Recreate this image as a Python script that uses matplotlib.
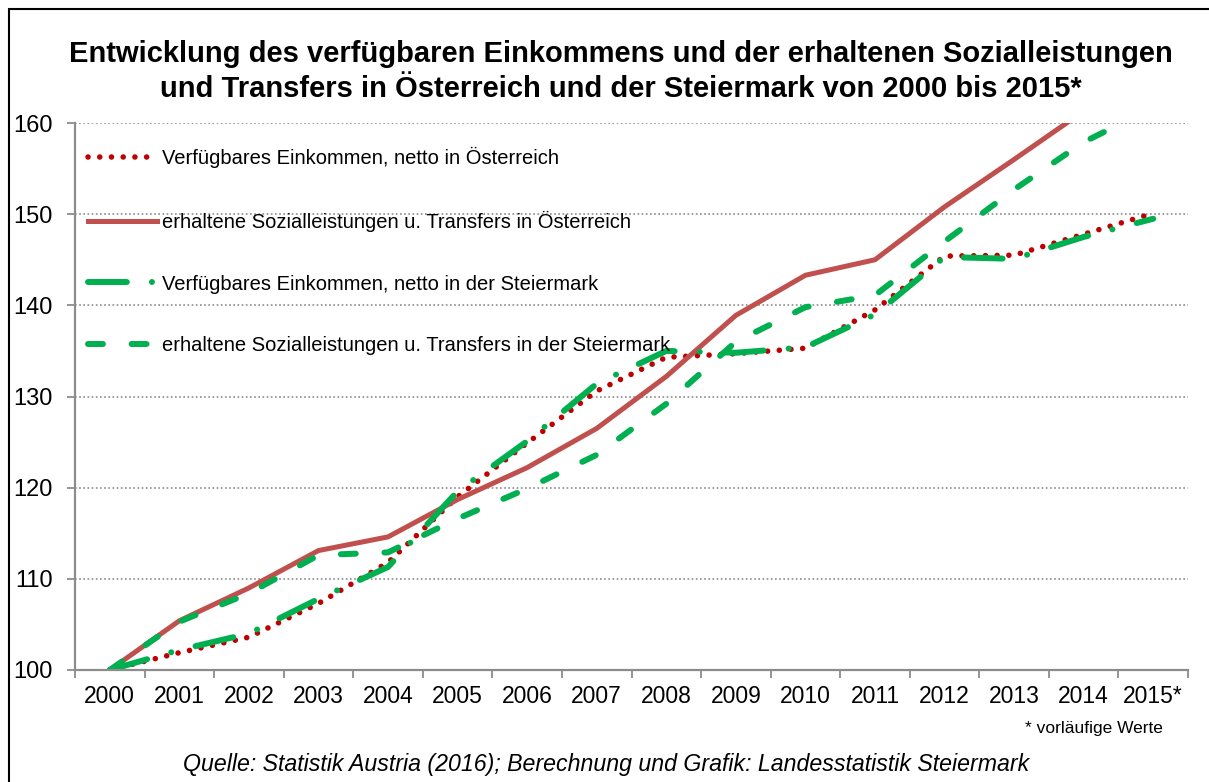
import matplotlib
matplotlib.use("Agg")
import matplotlib.pyplot as plt
from matplotlib.patches import Rectangle

plt.rcParams['font.family'] = ['Liberation Sans', 'DejaVu Sans']

# Jahre (Kategorien) und Indexwerte (2000 = 100)
years = ['2000', '2001', '2002', '2003', '2004', '2005', '2006', '2007',
         '2008', '2009', '2010', '2011', '2012', '2013', '2014', '2015*']
einkommen_at = [100, 101.9, 103.6, 107.3, 111.8, 119.0, 124.9, 130.6,
                134.3, 134.7, 135.3, 139.5, 145.4, 145.5, 147.8, 150.1]
sozial_at = [100, 105.4, 109.0, 113.1, 114.6, 118.7, 122.2, 126.5,
             132.2, 138.9, 143.3, 145.0, 150.8, 156.0, 161.3, 166.0]
einkommen_stmk = [100, 102.2, 104.0, 107.8, 111.3, 119.6, 125.1, 131.4,
                  135.0, 134.8, 135.4, 139.0, 145.3, 145.1, 147.5, 149.5]
sozial_stmk = [100, 105.3, 108.4, 112.6, 112.9, 116.6, 119.9, 123.6,
               129.2, 136.0, 139.8, 141.1, 147.0, 152.7, 157.9, 161.7]

labels = ['Verfügbares Einkommen, netto in Österreich',
          'erhaltene Sozialleistungen u. Transfers in Österreich',
          'Verfügbares Einkommen, netto in der Steiermark',
          'erhaltene Sozialleistungen u. Transfers in der Steiermark']

W, H = 1209, 782
fig = plt.figure(figsize=(W / 100, H / 100), dpi=100)
ax = fig.add_axes([75 / W, 1 - 670 / H, (1188 - 75) / W, (670 - 123) / H])

x = list(range(len(years)))
dark_red = '#C00000'
red = '#C0504D'
green = '#00B050'
grey = '#8C8C8C'

l1, = ax.plot(x, einkommen_at, color=dark_red, lw=4.0, label=labels[0])
l1.set_dashes([0.01, 2.1])
l1.set_dash_capstyle('round')
l2, = ax.plot(x, sozial_at, color=red, lw=3.6, label=labels[1],
              solid_joinstyle='round')
l3, = ax.plot(x, einkommen_stmk, color=green, lw=4.3, label=labels[2])
l3.set_dashes([6.5, 4.2, 0.01, 4.2])
l3.set_dash_capstyle('round')
l4, = ax.plot(x, sozial_stmk, color=green, lw=4.3, label=labels[3])
l4.set_dashes([2.5, 4.8])
l4.set_dash_capstyle('round')

ax.set_ylim(100, 160)
ax.set_xlim(-0.5, len(years) - 0.5)
ax.set_yticks(range(100, 161, 10))
ax.set_xticks(x)
ax.set_xticklabels(years)
ax.set_xticks([i - 0.5 for i in range(len(years) + 1)], minor=True)

ax.tick_params(axis='y', direction='out', length=6, width=1.3, color=grey,
               pad=10, labelsize=17)
ax.tick_params(axis='x', which='major', length=0, pad=10.5, labelsize=16.5)
ax.tick_params(axis='x', which='minor', direction='out', length=6,
               width=1.3, color=grey)

ax.grid(axis='y', linestyle=(0, (1, 1.5)), color=grey, lw=1.2)
ax.set_axisbelow(True)
for s in ['top', 'right']:
    ax.spines[s].set_visible(False)
for s in ['left', 'bottom']:
    ax.spines[s].set_color(grey)
    ax.spines[s].set_linewidth(1.6)

ax.legend(loc='upper left', bbox_to_anchor=(88 / W, 1 - 147 / H),
          bbox_transform=fig.transFigure, frameon=False, fontsize=14.5,
          handlelength=3.45, handletextpad=0.2, labelspacing=2.12,
          borderpad=0, borderaxespad=0)

fig.text(621 / W, 1 - 71.5 / H,
         'Entwicklung des verfügbaren Einkommens und der erhaltenen Sozialleistungen\n'
         'und Transfers in Österreich und der Steiermark von 2000 bis 2015*',
         ha='center', va='center', fontsize=21, fontweight='bold',
         linespacing=1.3)
fig.text(1163 / W, 1 - 729 / H, '* vorläufige Werte', ha='right',
         va='center', fontsize=12.5)
fig.text(606 / W, 1 - 765 / H,
         'Quelle: Statistik Austria (2016); Berechnung und Grafik: Landesstatistik Steiermark',
         ha='center', va='center', fontsize=16.7, style='italic')

# Rahmen um die Grafik
fig.patches.append(Rectangle((9 / W, -0.1), 1.2, 1 - 9 / H + 0.1,
                             transform=fig.transFigure, fill=False,
                             edgecolor='black', lw=1.5))

fig.savefig('out.png', dpi=100)
